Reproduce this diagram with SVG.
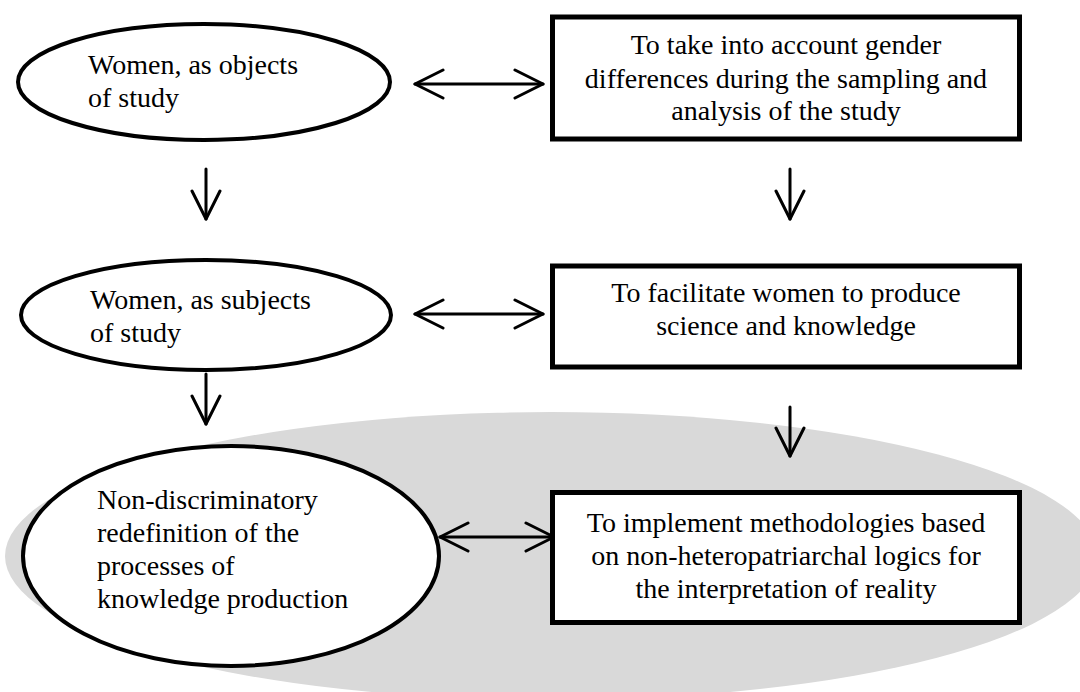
<svg xmlns="http://www.w3.org/2000/svg" width="1080" height="692" viewBox="0 0 1080 692">
  <defs>
    <style>
      .oval { fill: #ffffff; stroke: #000000; stroke-width: 4; }
      .box { fill: #ffffff; stroke: #000000; stroke-width: 5; }
      .txt { font-family: "Liberation Serif", "Times New Roman", serif; font-size: 28px; fill: #000000; }
      .mid { text-anchor: middle; }
      .conn { fill: none; stroke: #000000; stroke-width: 3; stroke-linecap: round; }
    </style>
    <marker id="head" viewBox="-32 -17 34 34" refX="0" refY="0" markerWidth="34" markerHeight="34" markerUnits="userSpaceOnUse" orient="auto-start-reverse">
      <path d="M-28,-14 L0,0 L-28,14" fill="none" stroke="#000000" stroke-width="3" stroke-linecap="round" stroke-linejoin="round"/>
    </marker>
  </defs>

  <rect width="1080" height="692" fill="#ffffff"/>

  <g id="highlight-region">
    <ellipse cx="551" cy="556" rx="546" ry="144" fill="#d9d9d9"/>
  </g>

  <g id="connectors">
    <path class="conn" d="M415,84 L543,84" marker-start="url(#head)" marker-end="url(#head)"/>
    <path class="conn" d="M415,314 L543,314" marker-start="url(#head)" marker-end="url(#head)"/>
    <path class="conn" d="M440,537 L554,537" marker-start="url(#head)" marker-end="url(#head)"/>
    <path class="conn" d="M206,169 L206,219" marker-end="url(#head)"/>
    <path class="conn" d="M790,169 L790,219" marker-end="url(#head)"/>
    <path class="conn" d="M206,374 L206,424" marker-end="url(#head)"/>
    <path class="conn" d="M790,407 L790,456" marker-end="url(#head)"/>
  </g>

  <g id="node-objects">
    <ellipse class="oval" cx="204" cy="82" rx="186" ry="58"/>
    <text class="txt" x="88" y="74">Women, as objects</text>
    <text class="txt" x="88" y="107">of study</text>
  </g>

  <g id="node-subjects">
    <ellipse class="oval" cx="206" cy="315" rx="185" ry="55"/>
    <text class="txt" x="90" y="309">Women, as subjects</text>
    <text class="txt" x="90" y="342">of study</text>
  </g>

  <g id="node-redefinition">
    <ellipse class="oval" cx="231" cy="556" rx="208" ry="110"/>
    <text class="txt" x="97" y="509">Non-discriminatory</text>
    <text class="txt" x="97" y="542">redefinition of the</text>
    <text class="txt" x="97" y="575">processes of</text>
    <text class="txt" x="97" y="608">knowledge production</text>
  </g>

  <g id="node-gender-differences">
    <rect class="box" x="552.5" y="17" width="467" height="122"/>
    <text class="txt mid" x="786" y="54">To take into account gender</text>
    <text class="txt mid" x="786" y="88">differences during the sampling and</text>
    <text class="txt mid" x="786" y="120">analysis of the study</text>
  </g>

  <g id="node-facilitate">
    <rect class="box" x="552.5" y="266" width="467" height="101"/>
    <text class="txt mid" x="786" y="302">To facilitate women to produce</text>
    <text class="txt mid" x="786" y="335">science and knowledge</text>
  </g>

  <g id="node-methodologies">
    <rect class="box" x="552.5" y="492.5" width="467" height="130"/>
    <text class="txt mid" x="786" y="532">To implement methodologies based</text>
    <text class="txt mid" x="786" y="565">on non-heteropatriarchal logics for</text>
    <text class="txt mid" x="786" y="598">the interpretation of reality</text>
  </g>
</svg>
